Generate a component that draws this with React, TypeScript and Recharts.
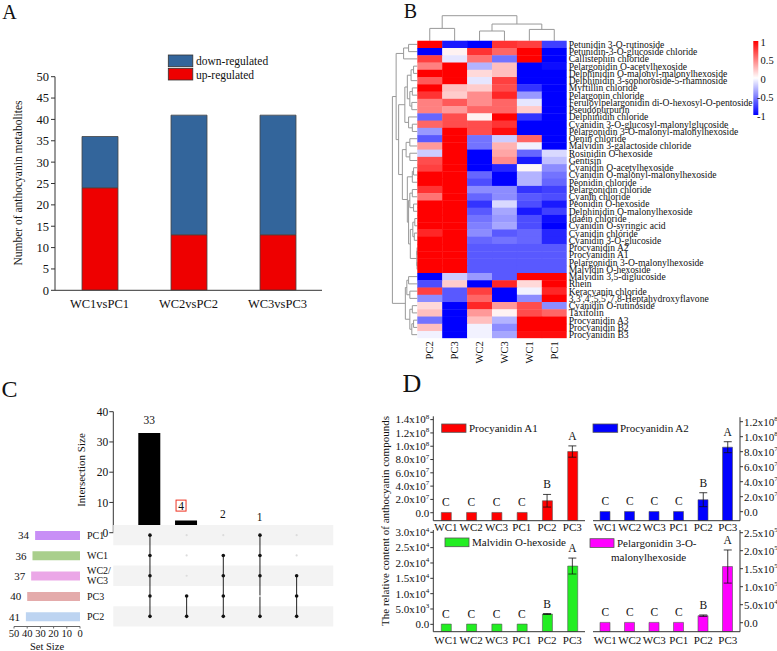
import React from "react";
import {
  BarChart, Bar, XAxis, YAxis, ScatterChart, Scatter, ReferenceLine, ReferenceArea,
  ComposedChart, ErrorBar, LabelList, Cell,
} from "recharts";

const FONT = '"Liberation Serif", "Times New Roman", serif';
const TICK = { fontFamily: FONT, fill: "#111" };

// ---------- A: regulated counts
const comparisons = ["WC1vsPC1", "WC2vsPC2", "WC3vsPC3"];
const upRegulated = [24, 13, 13];
const downRegulated = [12, 28, 28];

// ---------- B: heatmap
const hmCols = ["PC2", "PC3", "WC2", "WC3", "WC1", "PC1"];
const hmRows = [
  "Petunidin 3-O-rutinoside",
  "Petunidin-3-O-glucoside chloride",
  "Callistephin chloride",
  "Pelargonidin O-acetylhexoside",
  "Delphinidin O-malonyl-malonylhexoside",
  "Delphinidin 3-sophoroside-5-rhamnoside",
  "Myrtillin chloride",
  "Pelargonin chloride",
  "Feruloylpelargonidin di-O-hexosyl-O-pentoside",
  "Pseudopurpurin",
  "Delphinidin chloride",
  "Cyanidin 3-O-glucosyl-malonylglucoside",
  "Pelargonidin 3-O-malonyl-malonylhexoside",
  "Oenin chloride",
  "Malvidin 3-galactoside chloride",
  "Rosinidin O-hexoside",
  "Gentisin",
  "Cyanidin O-acetylhexoside",
  "Cyanidin O-malonyl-malonylhexoside",
  "Peonidin chloride",
  "Pelargonidin chloride",
  "Cyanin chloride",
  "Peonidin O-hexoside",
  "Delphinidin O-malonylhexoside",
  "Idaein chloride",
  "Cyanidin O-syringic acid",
  "Cyanidin chloride",
  "Cyanidin 3-O-glucoside",
  "Procyanidin A2",
  "Procyanidin A1",
  "Pelargonidin 3-O-malonylhexoside",
  "Malvidin O-hexoside",
  "Malvidin 3,5-diglucoside",
  "Rhein",
  "Keracyanin chloride",
  "3,3',4',5,5',7,8-Heptahydroxyflavone",
  "Cyanidin O-rutinoside",
  "Taxifolin",
  "Procyanidin A3",
  "Procyanidin B2",
  "Procyanidin B3",
];
const hmValues = [
  [1, -0.9, -1, 0.8, 0.75, -0.75],
  [-1, 0.05, 0.8, 0.6, 1, -1],
  [0.75, -0.1, 0.55, -0.55, 1, -1],
  [0.5, 1, -0.3, 0.25, -1, -0.95],
  [1, 1, 0.15, 0.25, -1, -1],
  [0.65, 1, -0.1, 0.75, -1, -1],
  [1, 0.25, 0.2, 0.7, -0.8, -1],
  [0.8, 0.2, 0.45, 0.85, -0.4, -1],
  [0.5, 0.65, 0.45, 0.6, -0.1, -1],
  [0.5, 0.4, 0.6, 0.6, 0.2, -1],
  [-0.6, 0.7, 0.05, 1, -0.8, -1],
  [0.6, 0.7, 0.7, 0.8, -1, -1],
  [-0.4, 1, 0.7, 0.95, -1, -1],
  [-0.65, 1, -0.55, -0.2, 0.6, -1],
  [0.4, 1, -0.55, 0.3, -0.05, -1],
  [-0.2, 1, -1, 0.35, -0.6, -0.15],
  [0.7, 1, -1, 0.45, -0.9, -0.25],
  [0.75, 1, -1, -0.85, 0.03, -0.45],
  [1, 1, -0.6, -1, -0.3, -0.55],
  [1, 1, -0.7, -1, -0.3, -0.6],
  [0.8, 1, -0.45, -0.45, -0.8, -0.75],
  [0.55, 1, -0.6, -0.45, -0.65, -0.7],
  [1, 1, -0.8, -0.15, -0.7, -0.9],
  [1, 1, -0.65, -0.35, -0.9, -0.75],
  [1, 1, -0.55, -0.4, -0.7, -0.95],
  [1, 1, -0.5, -0.35, -0.7, -1],
  [0.85, 1, -0.45, -0.65, -0.6, -0.85],
  [1, 1, -0.6, -0.55, -0.6, -0.85],
  [1, 1, -0.65, -0.65, -0.65, -0.65],
  [1, 1, -0.65, -0.65, -0.65, -0.65],
  [1, 1, -0.65, -0.65, -0.65, -0.65],
  [1, 1, -0.65, -0.65, -0.65, -0.65],
  [-1, -0.2, -0.4, -0.65, 1, 1],
  [-0.7, 0.2, -1, 0.85, 0.15, 1],
  [0.75, -0.65, 0.75, -1, -0.05, 0.85],
  [-0.45, -0.65, 0.6, -1, -0.45, 1],
  [0.15, -1, 0.85, 0.4, 0.7, -0.45],
  [0.25, -1, 0.4, 0.05, 0.7, 0.6],
  [-0.55, -1, 0.25, -0.3, 1, 1],
  [0.25, -1, -0.05, -0.45, 1, 1],
  [-0.05, -1, -0.05, -0.35, 0.95, 0.95],
];
// dendrograms: [left, right, height]; leaves are indices
const colTree = [[0, 1, 1.7], [[2, 3, 1.34], [4, 5, 1.56], 2.3], 3.45];
const rowTree = [
  [
    [[0, 1, 0.35], 2, 0.55],
    [
      [[[[3, 4, 0.15], 5, 0.25], [[6, 7, 0.2], [8, 9, 0.22], 0.3], 0.4], [10, [11, 12, 0.2], 0.35], 0.5],
      [
        [[13, 14, 0.3], [15, 16, 0.3], 0.45],
        [
          [[17, 18, 0.15], 19, 0.2],
          [
            [[20, 21, 0.2], [22, 23, 0.15], 0.3],
            [[[24, 25, 0.1], [26, 27, 0.12], 0.18], [[28, 29, 0.01], [30, 31, 0.01], 0.02], 0.28],
            0.35,
          ],
          0.4,
        ],
        0.6,
      ],
      0.75,
    ],
    0.85,
  ],
  [[[32, 33, 0.35], [34, 35, 0.3], 0.42], [[36, 37, 0.2], [[38, 39, 0.15], 40, 0.22], 0.3], 0.48],
  1.0,
];

// ---------- C: upset
const setNames = ["PC1", "WC1", "WC2/WC3", "PC3", "PC2"];
const setSizes = [34, 36, 37, 40, 41];
const setColors = ["#c88ff6", "#a9cf8c", "#eba7e7", "#e4abab", "#bdd4f1"];
const interSizes = [33, 4, 2, 1, 1];
const interLabels = ["33", "4", "2", "1", ""];
const interBoxed = [false, true, false, false, false];
const interMembers = [
  [1, 1, 1, 1, 1],
  [0, 0, 0, 1, 1],
  [0, 1, 1, 1, 1],
  [1, 1, 1, 0, 1],
  [0, 0, 1, 1, 1],
];

// ---------- D: relative content
const groupsD = ["WC1", "WC2", "WC3", "PC1", "PC2", "PC3"];
const sigLetters = ["C", "C", "C", "C", "B", "A"];
const a1Mean = [4e5, 4e5, 4e5, 4e5, 1.8e7, 9.2e7];
const a1Err = [0, 0, 0, 0, 0.95e7, 0.85e7];
const a2Mean = [3e5, 3e5, 3e5, 3e5, 1.6e7, 8.6e7];
const a2Err = [0, 0, 0, 0, 0.93e7, 0.73e7];
const mhMean = [80, 80, 80, 80, 3360, 19000];
const mhErr = [0, 0, 0, 0, 150, 2600];
const pmMean = [800, 800, 800, 800, 19500, 156000];
const pmErr = [0, 0, 0, 0, 2000, 46000];

// ---------- helpers
function hmColor(v: number) {
  const t = Math.min(1, Math.abs(v));
  const c = Math.round(255 * (1 - t));
  return v >= 0 ? `rgb(255,${c},${c})` : `rgb(${c},${c},255)`;
}

function layoutTree(t: any, segs: number[][]): { pos: number; h: number } {
  if (typeof t === "number") return { pos: t + 0.5, h: 0 };
  const a = layoutTree(t[0], segs);
  const b = layoutTree(t[1], segs);
  const h = t[2];
  segs.push([a.pos, a.h, a.pos, h], [b.pos, b.h, b.pos, h], [a.pos, h, b.pos, h]);
  return { pos: (a.pos + b.pos) / 2, h };
}

function PanelA() {
  const data = comparisons.map((c, i) => ({ name: c, up: upRegulated[i], down: downRegulated[i] }));
  return (
    <div style={{ position: "absolute", left: 0, top: 0 }}>
      <BarChart width={340} height={320} data={data} margin={{ top: 76.7, right: 18, left: 0, bottom: 0 }}>
        <XAxis dataKey="name" height={29.7} tickLine={false} tickSize={0} tickMargin={9} interval={0}
          tick={{ ...TICK, fontSize: 12.5 }} stroke="#333" />
        <YAxis domain={[0, 50]} ticks={[0, 5, 10, 15, 20, 25, 30, 35, 40, 45, 50]} width={55} interval={0}
          tickSize={4} tickMargin={2} tick={{ ...TICK, fontSize: 12.5 }} stroke="#333" allowDataOverflow />
        <Bar dataKey="up" stackId="s" fill="#ee0000" stroke="#444" strokeWidth={0.8} barSize={36} isAnimationActive={false} />
        <Bar dataKey="down" stackId="s" fill="#33659b" stroke="#444" strokeWidth={0.8} barSize={36} isAnimationActive={false} />
      </BarChart>
    </div>
  );
}

// heatmap layout
const HM_W = 397, HM_H = 372, HM_ML = 12.4, HM_MT = 15.7, HM_PW = 174.3, HM_PH = 322.6;
const HM_TOP = 3.45;
const cellW = HM_PW / 7;
const cellH = HM_PH / (hmRows.length + HM_TOP);

function Heatmap() {
  const cells = hmRows.flatMap((_, r) => hmValues[r].map((v, c) => ({ x: c + 0.5, y: r + 0.5, v })));
  const colSegs: number[][] = [];
  layoutTree(colTree, colSegs);
  const rowSegs: number[][] = [];
  layoutTree(rowTree, rowSegs);
  const ColTick = ({ x, y, payload }: any) => (
    <text x={x} y={y} transform={`rotate(-90, ${x}, ${y})`} textAnchor="end" dominantBaseline="central"
      fontSize={10.5} {...TICK}>{hmCols[Math.floor(payload.value)]}</text>
  );
  const RowTick = ({ x, y, payload }: any) => (
    <text x={x} y={y} dy="0.36em" textAnchor="start" fontSize={9.6} {...TICK}>
      {hmRows[Math.floor(payload.value)]}
    </text>
  );
  return (
    <div style={{ position: "absolute", left: 380, top: 0 }}>
      <ScatterChart width={HM_W} height={HM_H} margin={{ top: HM_MT, left: HM_ML, right: 0, bottom: 0 }}>
        <XAxis type="number" dataKey="x" domain={[-1, 6]} ticks={[0.5, 1.5, 2.5, 3.5, 4.5, 5.5]} interval={0}
          height={HM_H - HM_MT - HM_PH} axisLine={false} tickLine={false} tickSize={0} tickMargin={3}
          tick={<ColTick />} allowDataOverflow />
        <YAxis type="number" dataKey="y" orientation="right" reversed domain={[-HM_TOP, hmRows.length]}
          ticks={hmRows.map((_, i) => i + 0.5)} interval={0}
          width={HM_W - HM_ML - HM_PW} axisLine={false} tickLine={false} tickSize={0} tickMargin={2}
          tick={<RowTick />} allowDataOverflow />
        <Scatter data={cells} isAnimationActive={false}
          shape={(p: any) => (
            <rect x={p.cx - cellW / 2} y={p.cy - cellH / 2} width={cellW + 0.4} height={cellH + 0.4}
              fill={hmColor(p.payload.v)} />
          )} />
        {colSegs.map((s, i) => (
          <ReferenceLine key={"c" + i} segment={[{ x: s[0], y: -s[1] }, { x: s[2], y: -s[3] }]}
            stroke="#999" strokeWidth={1} ifOverflow="visible" />
        ))}
        {rowSegs.map((s, i) => (
          <ReferenceLine key={"r" + i} segment={[{ x: -s[1], y: s[0] }, { x: -s[3], y: s[2] }]}
            stroke="#999" strokeWidth={1} ifOverflow="visible" />
        ))}
      </ScatterChart>
    </div>
  );
}

function UpsetBars() {
  const data = interSizes.map((v, i) => ({ name: "I" + i, size: v }));
  const InterLabel = (p: any) => {
    const label = interLabels[p.index];
    if (!label) return null;
    const boxed = interBoxed[p.index];
    const cx = p.x + p.width / 2 - (boxed ? 5 : 0);
    const cy = p.y - (boxed ? 15 : 13);
    return (
      <g>
        {boxed && <rect x={cx - 5} y={cy - 5.5} width={10} height={11} fill="none" stroke="#e32" strokeWidth={1} />}
        <text x={cx} y={cy} textAnchor="middle" dominantBaseline="central" fontSize={11.5} {...TICK}>{label}</text>
      </g>
    );
  };
  return (
    <div style={{ position: "absolute", left: 0, top: 380 }}>
      <BarChart width={345} height={160} data={data} margin={{ top: 31.7, right: 12, left: 0, bottom: 7.3 }}>
        <XAxis dataKey="name" hide padding={{ left: 18, right: 18 }} />
        <YAxis domain={[0, 40]} ticks={[0, 10, 20, 30, 40]} width={113.3} tickSize={4} tickMargin={1} interval={0}
          tick={{ ...TICK, fontSize: 11.5 }} stroke="#333" allowDataOverflow />
        <ReferenceLine y={0} stroke="#333" />
        <Bar dataKey="size" fill="#000" barSize={22} isAnimationActive={false}>
          <LabelList dataKey="size" content={<InterLabel />} />
        </Bar>
      </BarChart>
    </div>
  );
}

function UpsetMatrix() {
  const dots = interMembers.flatMap((m, i) => m.map((on, s) => ({ x: i + 1, y: s + 0.5, on })));
  return (
    <div style={{ position: "absolute", left: 100, top: 520 }}>
      <ScatterChart width={240} height={110} margin={{ top: 5, left: 13.3, right: 6.7, bottom: 3.5 }}>
        <XAxis type="number" dataKey="x" domain={[0, 6]} hide />
        <YAxis type="number" dataKey="y" domain={[0, 5]} reversed hide />
        {setNames.map((n, s) => s % 2 === 0 ? (
          <ReferenceArea key={n} x1={0} x2={6} y1={s} y2={s + 1} fill="#f3f3f3" fillOpacity={1} stroke="none" />
        ) : null)}
        {interMembers.map((m, i) => {
          const rows = m.map((on, s) => (on ? s : -1)).filter((s) => s >= 0);
          return (
            <ReferenceLine key={i} segment={[{ x: i + 1, y: Math.min(...rows) + 0.5 }, { x: i + 1, y: Math.max(...rows) + 0.5 }]}
              stroke="#222" strokeWidth={1} />
          );
        })}
        <Scatter data={dots} isAnimationActive={false}
          shape={(p: any) => p.payload.on
            ? <circle cx={p.cx} cy={p.cy} r={1.8} fill="#111" />
            : <circle cx={p.cx} cy={p.cy} r={1.1} fill="#dcdcdc" />} />
      </ScatterChart>
    </div>
  );
}

function SetSizes() {
  const data = setNames.map((n, i) => ({ name: n, size: setSizes[i] }));
  const SetTick = ({ x, y, payload }: any) => {
    const parts = String(payload.value).split("/");
    if (parts.length === 1)
      return <text x={x} y={y} dy="0.4em" textAnchor="start" fontSize={10} {...TICK}>{parts[0]}</text>;
    return (
      <text x={x} y={y} textAnchor="start" fontSize={10} {...TICK}>
        <tspan x={x} dy="-0.15em">{parts[0] + "/"}</tspan>
        <tspan x={x} dy="0.95em">{parts[1]}</tspan>
      </text>
    );
  };
  const SizeLabel = (p: any) => {
    const left = Math.min(p.x, p.x + p.width);
    return (
      <text x={left - 6} y={p.y + p.height / 2} dy="0.35em" textAnchor="end" fontSize={11} {...TICK}>{p.value}</text>
    );
  };
  return (
    <div style={{ position: "absolute", left: 0, top: 515 }}>
      <BarChart layout="vertical" width={113} height={136} data={data} margin={{ top: 10, left: 14, right: 0, bottom: 0 }}>
        <XAxis type="number" domain={[0, 50]} reversed ticks={[0, 10, 20, 30, 40, 50]} height={24.5} interval={0}
          tickSize={2} tickMargin={1} tick={{ ...TICK, fontSize: 10.5 }} stroke="#666" allowDataOverflow />
        <YAxis type="category" dataKey="name" orientation="right" width={33} axisLine={false} tickLine={false}
          tickSize={0} tickMargin={7} interval={0} tick={<SetTick />} />
        <Bar dataKey="size" barSize={9} isAnimationActive={false}>
          {data.map((d, i) => <Cell key={d.name} fill={setColors[i]} />)}
          <LabelList dataKey="size" content={<SizeLabel />} />
        </Bar>
      </BarChart>
    </div>
  );
}

function SciTick(props: any) {
  const { x, y, payload, textAnchor } = props;
  const v = payload.value;
  let main = "0.0";
  let exp = "";
  if (v !== 0) {
    const e = Math.floor(Math.log10(v) + 1e-9);
    main = (v / Math.pow(10, e)).toFixed(1) + "x10";
    exp = String(e);
  }
  return (
    <text x={x} y={y} dy="0.35em" textAnchor={textAnchor} fontSize={11} {...TICK}>
      {main}
      {exp && <tspan dy={-4.5} fontSize={7}>{exp}</tspan>}
    </text>
  );
}

function DChart(props: any) {
  const { left, top, width, height, margin, right, yWidth, xHeight, xMargin, domain, ticks, color, mean, err } = props;
  const data = groupsD.map((g, i) => ({ g, v: mean[i], e: err[i], sig: sigLetters[i] }));
  const lo = domain[0];
  return (
    <div style={{ position: "absolute", left, top }}>
      <ComposedChart width={width} height={height} data={data} margin={margin}>
        <XAxis dataKey="g" height={xHeight} tickLine={false} tickSize={0} tickMargin={xMargin} interval={0}
          tick={{ ...TICK, fontSize: 11 }} stroke="#333" />
        <YAxis orientation={right ? "right" : "left"} domain={domain} ticks={ticks} width={yWidth} interval={0}
          tickSize={3} tickMargin={1} tick={<SciTick />} stroke="#333" allowDataOverflow />
        <Bar dataKey={(d: any) => [lo, d.v]} fill={color} stroke="#555" strokeWidth={0.6} barSize={10}
          isAnimationActive={false} />
        <Scatter dataKey="v" isAnimationActive={false} shape={() => <g />}>
          <ErrorBar dataKey="e" direction="y" width={4} stroke="#111" strokeWidth={0.8} />
        </Scatter>
        <Scatter dataKey={(d: any) => d.v + d.e} isAnimationActive={false}
          shape={(p: any) => (
            <text x={p.cx} y={p.cy - 10} textAnchor="middle" dominantBaseline="central" fontSize={11.5} {...TICK}>
              {p.payload.sig}
            </text>
          )} />
      </ComposedChart>
    </div>
  );
}

function Overlay() {
  const t = { fontFamily: FONT, fill: "#111" } as any;
  return (
    <svg width={777} height={651} style={{ position: "absolute", left: 0, top: 0, pointerEvents: "none" }}>
      <defs>
        <linearGradient id="cb" x1="0" y1="0" x2="0" y2="1">
          <stop offset="0" stopColor="#ff0000" />
          <stop offset="0.5" stopColor="#ffffff" />
          <stop offset="1" stopColor="#0000ff" />
        </linearGradient>
      </defs>
      {/* panel letters */}
      <text x={9.5} y={11.5} fontSize={20} textAnchor="middle" dominantBaseline="central" {...t}>A</text>
      <text x={410.5} y={11} fontSize={20} textAnchor="middle" dominantBaseline="central" {...t}>B</text>
      <text x={9.5} y={388.5} fontSize={24} textAnchor="middle" dominantBaseline="central" {...t}>C</text>
      <text x={412} y={383} fontSize={26} textAnchor="middle" dominantBaseline="central" {...t}>D</text>

      {/* A */}
      <text x={17.5} y={183} fontSize={11.5} textAnchor="middle" dominantBaseline="central"
        transform="rotate(-90, 17.5, 183)" {...t}>Number of anthocyanin metabolites</text>
      <rect x={168.3} y={55} width={24.5} height={11.7} fill="#33659b" stroke="#333" strokeWidth={0.8} />
      <rect x={168.3} y={68.3} width={24.5} height={11.7} fill="#ee0000" stroke="#333" strokeWidth={0.8} />
      <text x={196} y={61} fontSize={11.5} dominantBaseline="central" {...t}>down-regulated</text>
      <text x={196} y={74.5} fontSize={11.5} dominantBaseline="central" {...t}>up-regulated</text>

      {/* B colour bar */}
      <rect x={753.3} y={41} width={5} height={74} fill="url(#cb)" />
      <text x={760.5} y={42.3} fontSize={10.5} dominantBaseline="central" {...t}>1</text>
      <text x={760.5} y={60.7} fontSize={10.5} dominantBaseline="central" {...t}>0.5</text>
      <text x={760.5} y={79} fontSize={10.5} dominantBaseline="central" {...t}>0</text>
      <text x={757} y={97.7} fontSize={10.5} dominantBaseline="central" {...t}>-0.5</text>
      <text x={757} y={116.3} fontSize={10.5} dominantBaseline="central" {...t}>-1</text>

      {/* C */}
      <text x={81} y={470} fontSize={11} textAnchor="middle" dominantBaseline="central"
        transform="rotate(-90, 81, 470)" {...t}>Intersection Size</text>
      <text x={47} y={646} fontSize={10.5} textAnchor="middle" dominantBaseline="central" {...t}>Set Size</text>

      {/* D */}
      <text x={385} y={521} fontSize={11} textAnchor="middle" dominantBaseline="central"
        transform="rotate(-90, 385, 521)" {...t}>The relative content of anthocyanin compounds</text>
      <rect x={441.7} y={424} width={24.3} height={8.3} fill="#ff0000" stroke="#555" strokeWidth={0.8} />
      <text x={469} y={428.3} fontSize={11} dominantBaseline="central" {...t}>Procyanidin A1</text>
      <rect x={593} y={424} width={24.7} height={8.3} fill="#0000ff" stroke="#555" strokeWidth={0.8} />
      <text x={620} y={428.3} fontSize={11} dominantBaseline="central" {...t}>Procyanidin A2</text>
      <rect x={445} y={538} width={24} height={8.7} fill="#22ee22" stroke="#555" strokeWidth={0.8} />
      <text x={472} y={542.3} fontSize={11} dominantBaseline="central" {...t}>Malvidin O-hexoside</text>
      <rect x={590} y={538.7} width={24} height={8.7} fill="#ff00ff" stroke="#555" strokeWidth={0.8} />
      <text x={617} y={543.3} fontSize={11} dominantBaseline="central" {...t}>Pelargonidin 3-O-</text>
      <text x={611} y={556.7} fontSize={11} dominantBaseline="central" {...t}>malonylhexoside</text>
    </svg>
  );
}

export default function App() {
  return (
    <div style={{ position: "absolute", left: 0, top: 0, width: 777, height: 651, background: "#fff",
      fontFamily: FONT, overflow: "hidden" }}>
      <PanelA />
      <Heatmap />
      <UpsetBars />
      <UpsetMatrix />
      <SetSizes />
      <DChart left={380} top={400} width={215} height={135} margin={{ top: 16.3, left: 0, right: 10, bottom: 0 }}
        yWidth={53.3} xHeight={14.3} xMargin={2} domain={[-1.2e7, 1.45e8]}
        ticks={[0, 2e7, 4e7, 6e7, 8e7, 1e8, 1.2e8, 1.4e8]} color="#ff0000" mean={a1Mean} err={a1Err} />
      <DChart left={585} top={400} width={192} height={135} margin={{ top: 17.2, left: 8, right: 0, bottom: 0 }}
        right yWidth={37} xHeight={14.3} xMargin={2} domain={[-1.2e7, 1.26e8]}
        ticks={[0, 2e7, 4e7, 6e7, 8e7, 1e8, 1.2e8]} color="#0000ff" mean={a2Mean} err={a2Err} />
      <DChart left={380} top={515} width={215} height={136} margin={{ top: 15, left: 0, right: 10, bottom: 0 }}
        yWidth={53.3} xHeight={19.3} xMargin={4.5} domain={[-2400, 30750]}
        ticks={[0, 5e3, 1e4, 1.5e4, 2e4, 2.5e4, 3e4]} color="#22ee22" mean={mhMean} err={mhErr} />
      <DChart left={585} top={515} width={192} height={136} margin={{ top: 15, left: 8, right: 0, bottom: 0 }}
        right yWidth={37} xHeight={19.3} xMargin={4.5} domain={[-25000, 257500]}
        ticks={[0, 5e4, 1e5, 1.5e5, 2e5, 2.5e5]} color="#ff00ff" mean={pmMean} err={pmErr} />
      <Overlay />
    </div>
  );
}
